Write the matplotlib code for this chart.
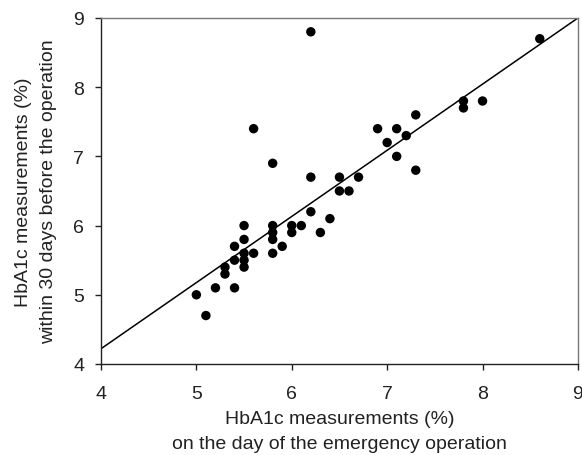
import matplotlib.pyplot as plt

plt.rcParams['font.family'] = ['Liberation Sans', 'DejaVu Sans']

# HbA1c on the day of the emergency operation
day_of_op = [6.2, 8.6, 7.8, 7.8, 8.0, 7.3, 6.9, 7.1, 7.2, 7.0, 7.1, 7.3,
             5.6, 5.8, 6.2, 6.5, 6.7, 6.5, 6.6, 6.2, 6.4, 6.3, 6.0, 6.0,
             6.1, 5.8, 5.8, 5.8, 5.8, 5.9, 5.5, 5.5, 5.5, 5.5, 5.5, 5.6,
             5.4, 5.4, 5.3, 5.3, 5.2, 5.4, 5.0, 5.1]
# HbA1c within 30 days before the operation
before_op = [8.8, 8.7, 7.8, 7.7, 7.8, 7.6, 7.4, 7.4, 7.3, 7.2, 7.0, 6.8,
             7.4, 6.9, 6.7, 6.7, 6.7, 6.5, 6.5, 6.2, 6.1, 5.9, 6.0, 5.9,
             6.0, 6.0, 5.9, 5.8, 5.6, 5.7, 6.0, 5.8, 5.6, 5.5, 5.4, 5.6,
             5.7, 5.5, 5.4, 5.3, 5.1, 5.1, 5.0, 4.7]

fit_x = [4, 9]
fit_y = [4.22, 9.0]

fig = plt.figure(figsize=(5.82, 4.56), dpi=100)
ax = fig.add_axes([0.1735, 0.1996, 0.8195, 0.7588])

ax.plot(fit_x, fit_y, color='black', lw=1.1, zorder=2)
ax.scatter(day_of_op, before_op, s=46, color='black', edgecolors='none', zorder=3)

ax.set_xlim(4, 9)
ax.set_ylim(4, 9)
ax.set_xticks([4, 5, 6, 7, 8, 9])
ax.set_yticks([4, 5, 6, 7, 8, 9])
ax.tick_params(direction='out', length=4, width=1, labelsize=14, colors='#222222', pad=8)
ax.tick_params(axis='x', pad=11)
for side in ['left', 'bottom']:
    ax.spines[side].set_color('#222222')
    ax.spines[side].set_linewidth(1)
for side in ['top', 'right']:
    ax.spines[side].set_color('#777777')
    ax.spines[side].set_linewidth(1)

ax.set_xlabel('HbA1c measurements (%)\non the day of the emergency operation',
              fontsize=14, color='#222222', labelpad=6, linespacing=1.6)
ax.set_ylabel('HbA1c measurements (%)\nwithin 30 days before the operation',
              fontsize=14, color='#222222', labelpad=12, linespacing=1.6)

fig.savefig('out.png', dpi=100)
